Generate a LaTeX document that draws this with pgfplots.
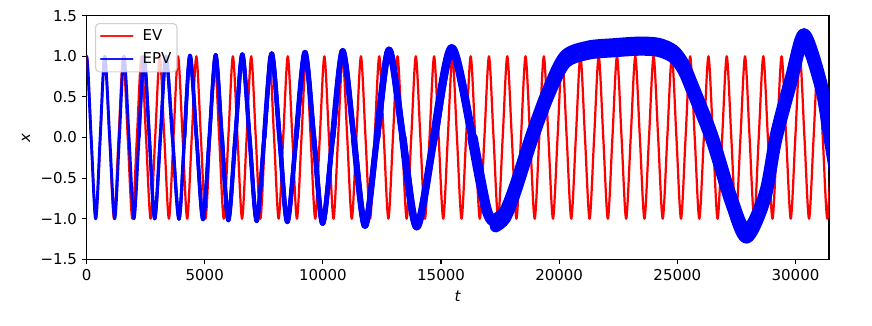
\documentclass[border=0pt]{standalone}
\usepackage{fontspec}
\setmainfont{DejaVu Sans}
\usepackage{pgfplots}
\pgfplotsset{compat=1.18}
\usepackage{pgfplotstable}

\pgfplotstableread{
t c
-192 0
0 1.0
192 0
385 -1.0
575 0
766 1.0
977 0
1189 -1.0
1386 0
1583 1.0
1795 0
2006 -1.0
2218 0
2429 1.0
2655 0
2882 -1.0
3121 0
3360 1.0
3635 0
3910 -1.005
4143 0
4376 1.01
4651 0
4926 -1.01
5195 0
5463 1.02
5730 0
5998 -1.02
6294 0
6590 1.025
6895 0
7199 -1.03
7517 0
7834 1.035
8164 0
8494 -1.04
8869 0
9243 1.05
9617 0
9990 -1.06
10414 0
10838 1.07
11310 0
11782 -1.09
12290 0
12798 1.08
13384 0
13970 -1.10
14710 0
15451 1.10
16330 0
16919 -0.88
17313 -1.05
17707 -0.95
18131 -0.64
18840 0
19540 0.55
20246 0.96
21220 1.075
22300 1.105
23400 1.125
24200 1.11
24830 1.03
25253 0.87
25620 0.62
26460 0
27257 -0.75
27927 -1.19
28710 -0.72
29175 0
29800 0.69
30361 1.23
31066 0.66
31416 0.07
31700 -0.42
}\epv

\pgfplotstableread{
t hi lo
17313 -1.005 -1.095
17707 -0.905 -0.995
18131 -0.595 -0.685
18840 0.045 -0.045
19540 0.595 0.505
20246 1.005 0.915
21220 1.12 1.03
22300 1.15 1.06
23400 1.17 1.08
24200 1.155 1.065
24830 1.075 0.985
25253 0.915 0.825
25620 0.665 0.575
26460 0.045 -0.045
27257 -0.705 -0.795
27927 -1.145 -1.235
28710 -0.675 -0.765
29175 0.045 -0.045
29800 0.735 0.645
30361 1.275 1.185
31066 0.705 0.615
31416 0.115 0.025
31700 -0.375 -0.465
}\epvlate

\newcommand{\lab}{\fontsize{10.8}{13}\selectfont}

\begin{document}
\begin{tikzpicture}
\begin{axis}[
  scale only axis, width=534.5pt, height=175.4pt,
  xmin=0, xmax=31416, ymin=-1.5, ymax=1.5,
  scaled x ticks=false, scaled y ticks=false,
  axis line style={line width=0.85pt},
  tick pos=left, tick align=outside, major tick length=3.4pt,
  every tick/.style={black, line width=0.85pt},
  xtick={0,5000,10000,15000,20000,25000,30000},
  xticklabels={\textnormal{0},\textnormal{5000},\textnormal{10000},\textnormal{15000},\textnormal{20000},\textnormal{25000},\textnormal{30000}},
  ytick={-1.5,-1,-0.5,0,0.5,1,1.5},
  yticklabels={\textnormal{−1.5},\textnormal{−1.0},\textnormal{−0.5},\textnormal{0.0},\textnormal{0.5},\textnormal{1.0},\textnormal{1.5}},
  tick label style={font=\lab},
  label style={font=\lab},
  xlabel={\textit{t}}, ylabel={\textit{x}},
  xlabel style={at={(axis description cs:0.5,-0.1505)}, anchor=center},
  ylabel style={at={(axis description cs:-0.0816,0.5)}, anchor=center},
  legend style={at={(axis description cs:0.0113,0.97)}, anchor=north west,
    draw=black!20, line width=0.8pt, rounded corners=2.8pt,
    fill=white, fill opacity=0.8, text opacity=1, draw opacity=0.9,
    font=\lab, inner xsep=3pt, inner ysep=2.5pt, row sep=3pt, column sep=5.5pt,
    nodes={inner xsep=1pt, inner ysep=2pt}},
  legend cell align=left,
  legend image code/.code={\draw[#1, line width=1.6pt] (0pt,0pt) -- (22.8pt,0pt);},
]
\addplot[red, line width=1.6pt, smooth] coordinates {
(-193.5,0)
(0,1)(193.5,0)(387,-1)(580.5,0)
(774,1)(967.5,0)(1161,-1)(1354.5,0)
(1548,1)(1741.5,0)(1935,-1)(2128.5,0)
(2322,1)(2515.5,0)(2709,-1)(2902.5,0)
(3096,1)(3289.5,0)(3483,-1)(3676.5,0)
(3870,1)(4063.5,0)(4257,-1)(4450.5,0)
(4644,1)(4837.5,0)(5031,-1)(5224.5,0)
(5418,1)(5611.5,0)(5805,-1)(5998.5,0)
(6192,1)(6385.5,0)(6579,-1)(6772.5,0)
(6966,1)(7159.5,0)(7353,-1)(7546.5,0)
(7740,1)(7933.5,0)(8127,-1)(8320.5,0)
(8514,1)(8707.5,0)(8901,-1)(9094.5,0)
(9288,1)(9481.5,0)(9675,-1)(9868.5,0)
(10062,1)(10255.5,0)(10449,-1)(10642.5,0)
(10836,1)(11029.5,0)(11223,-1)(11416.5,0)
(11610,1)(11803.5,0)(11997,-1)(12190.5,0)
(12384,1)(12577.5,0)(12771,-1)(12964.5,0)
(13158,1)(13351.5,0)(13545,-1)(13738.5,0)
(13932,1)(14125.5,0)(14319,-1)(14512.5,0)
(14706,1)(14899.5,0)(15093,-1)(15286.5,0)
(15480,1)(15673.5,0)(15867,-1)(16060.5,0)
(16254,1)(16447.5,0)(16641,-1)(16834.5,0)
(17028,1)(17221.5,0)(17415,-1)(17608.5,0)
(17802,1)(17995.5,0)(18189,-1)(18382.5,0)
(18576,1)(18769.5,0)(18963,-1)(19156.5,0)
(19350,1)(19543.5,0)(19737,-1)(19930.5,0)
(20124,1)(20317.5,0)(20511,-1)(20704.5,0)
(20898,1)(21091.5,0)(21285,-1)(21478.5,0)
(21672,1)(21865.5,0)(22059,-1)(22252.5,0)
(22446,1)(22639.5,0)(22833,-1)(23026.5,0)
(23220,1)(23413.5,0)(23607,-1)(23800.5,0)
(23994,1)(24187.5,0)(24381,-1)(24574.5,0)
(24768,1)(24961.5,0)(25155,-1)(25348.5,0)
(25542,1)(25735.5,0)(25929,-1)(26122.5,0)
(26316,1)(26509.5,0)(26703,-1)(26896.5,0)
(27090,1)(27283.5,0)(27477,-1)(27670.5,0)
(27864,1)(28057.5,0)(28251,-1)(28444.5,0)
(28638,1)(28831.5,0)(29025,-1)(29218.5,0)
(29412,1)(29605.5,0)(29799,-1)(29992.5,0)
(30186,1)(30379.5,0)(30573,-1)(30766.5,0)
(30960,1)(31153.5,0)(31347,-1)(31540.5,0)
(31734,1)
};
\addlegendentry{EV}
\addplot[blue, line width=2.1pt, smooth, line cap=round, line join=round] table[x=t,y=c] {\epv};
\addlegendentry{EPV}
\pgfplotsset{every axis plot/.append style={forget plot, blue, smooth, line cap=round, line join=round}}
\addplot[line width=2.4pt, restrict x to domain=2218:40000] table[x=t,y=c] {\epv};
\addplot[line width=2.7pt, restrict x to domain=4143:40000] table[x=t,y=c] {\epv};
\addplot[line width=3.0pt, restrict x to domain=5730:40000] table[x=t,y=c] {\epv};
\addplot[line width=3.3pt, restrict x to domain=7517:40000] table[x=t,y=c] {\epv};
\addplot[line width=3.6pt, restrict x to domain=8869:40000] table[x=t,y=c] {\epv};
\addplot[line width=4.0pt, restrict x to domain=10414:40000] table[x=t,y=c] {\epv};
\addplot[line width=4.4pt, restrict x to domain=11310:40000] table[x=t,y=c] {\epv};
\addplot[line width=4.9pt, restrict x to domain=12290:40000] table[x=t,y=c] {\epv};
\addplot[line width=5.4pt, restrict x to domain=13384:40000] table[x=t,y=c] {\epv};
\addplot[line width=6.0pt, restrict x to domain=14710:40000] table[x=t,y=c] {\epv};
\addplot[line width=7.5pt, restrict x to domain=16330:40000] table[x=t,y=c] {\epv};
\addplot[line width=8.5pt] table[x=t,y=hi] {\epvlate};
\addplot[line width=8.5pt] table[x=t,y=lo] {\epvlate};
\end{axis}
\path (-62.35pt,-47.3pt) rectangle (565.5pt,186.7pt);
\end{tikzpicture}
\end{document}
